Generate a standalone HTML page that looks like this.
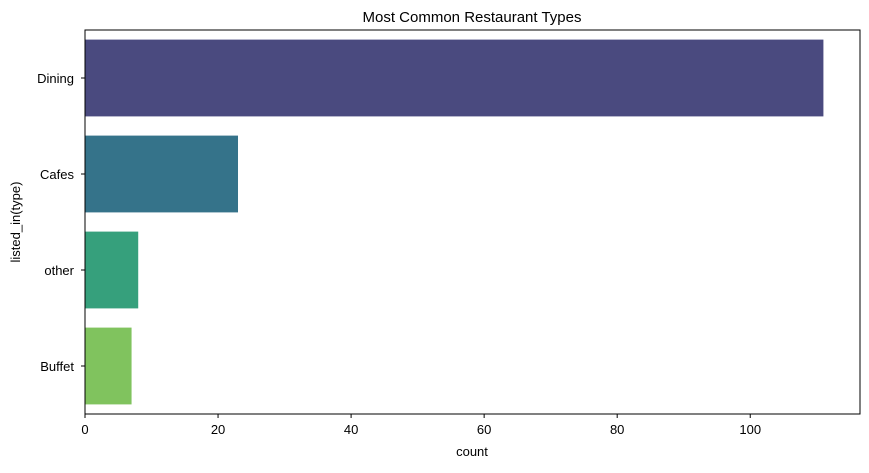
<!DOCTYPE html>
<html><head><meta charset="utf-8"><style>
body{margin:0;background:#fff;}
svg{font-family:"Liberation Sans","DejaVu Sans",sans-serif;}
</style></head><body>
<svg width="869" height="468" xmlns="http://www.w3.org/2000/svg">
<text x="472" y="22" text-anchor="middle" font-size="15">Most Common Restaurant Types</text>
<g id="plot"></g>
<text x="472" y="456" text-anchor="middle" font-size="13">count</text>
<text transform="translate(20,222) rotate(-90)" text-anchor="middle" font-size="13">listed_in(type)</text>
</svg>
<script>
const categories=["Dining","Cafes","other","Buffet"];
const counts=[111,23,8,7];
const colors=["#4a4a7f","#35738a","#36a07c","#80c35e"];
const xTicks=[0,20,40,60,80,100];
const L=85,R=860,T=30,B=414,xMax=116.5;
const ns="http://www.w3.org/2000/svg";
const g=document.getElementById("plot");
const x=v=>L+(R-L)*v/xMax;
const band=(B-T)/categories.length;
function el(t,a){const e=document.createElementNS(ns,t);for(const k in a)e.setAttribute(k,a[k]);g.appendChild(e);return e;}
categories.forEach((c,i)=>{
 const cy=T+band*(i+0.5);
 const r=el("rect",{x:L,y:cy-band*0.4,width:x(counts[i])-L,height:band*0.8,fill:colors[i]});
 
 
 const tk=el("line",{x1:L-4,x2:L,y1:cy,y2:cy,stroke:"#000"});
 
 
 const t=el("text",{x:L-11,y:cy+5,"text-anchor":"end","font-size":"13"});
 t.textContent=c;
 
 
});
xTicks.forEach(v=>{
 const tk=el("line",{x1:x(v),x2:x(v),y1:B,y2:B+4,stroke:"#000"});
 
 
 const t=el("text",{x:x(v),y:B+20,"text-anchor":"middle","font-size":"13"});
 t.textContent=v;
 
 
});
const f=el("rect",{x:L,y:T,width:R-L,height:B-T,fill:"none",stroke:"#000","stroke-width":"1"});


</script>
</body></html>
